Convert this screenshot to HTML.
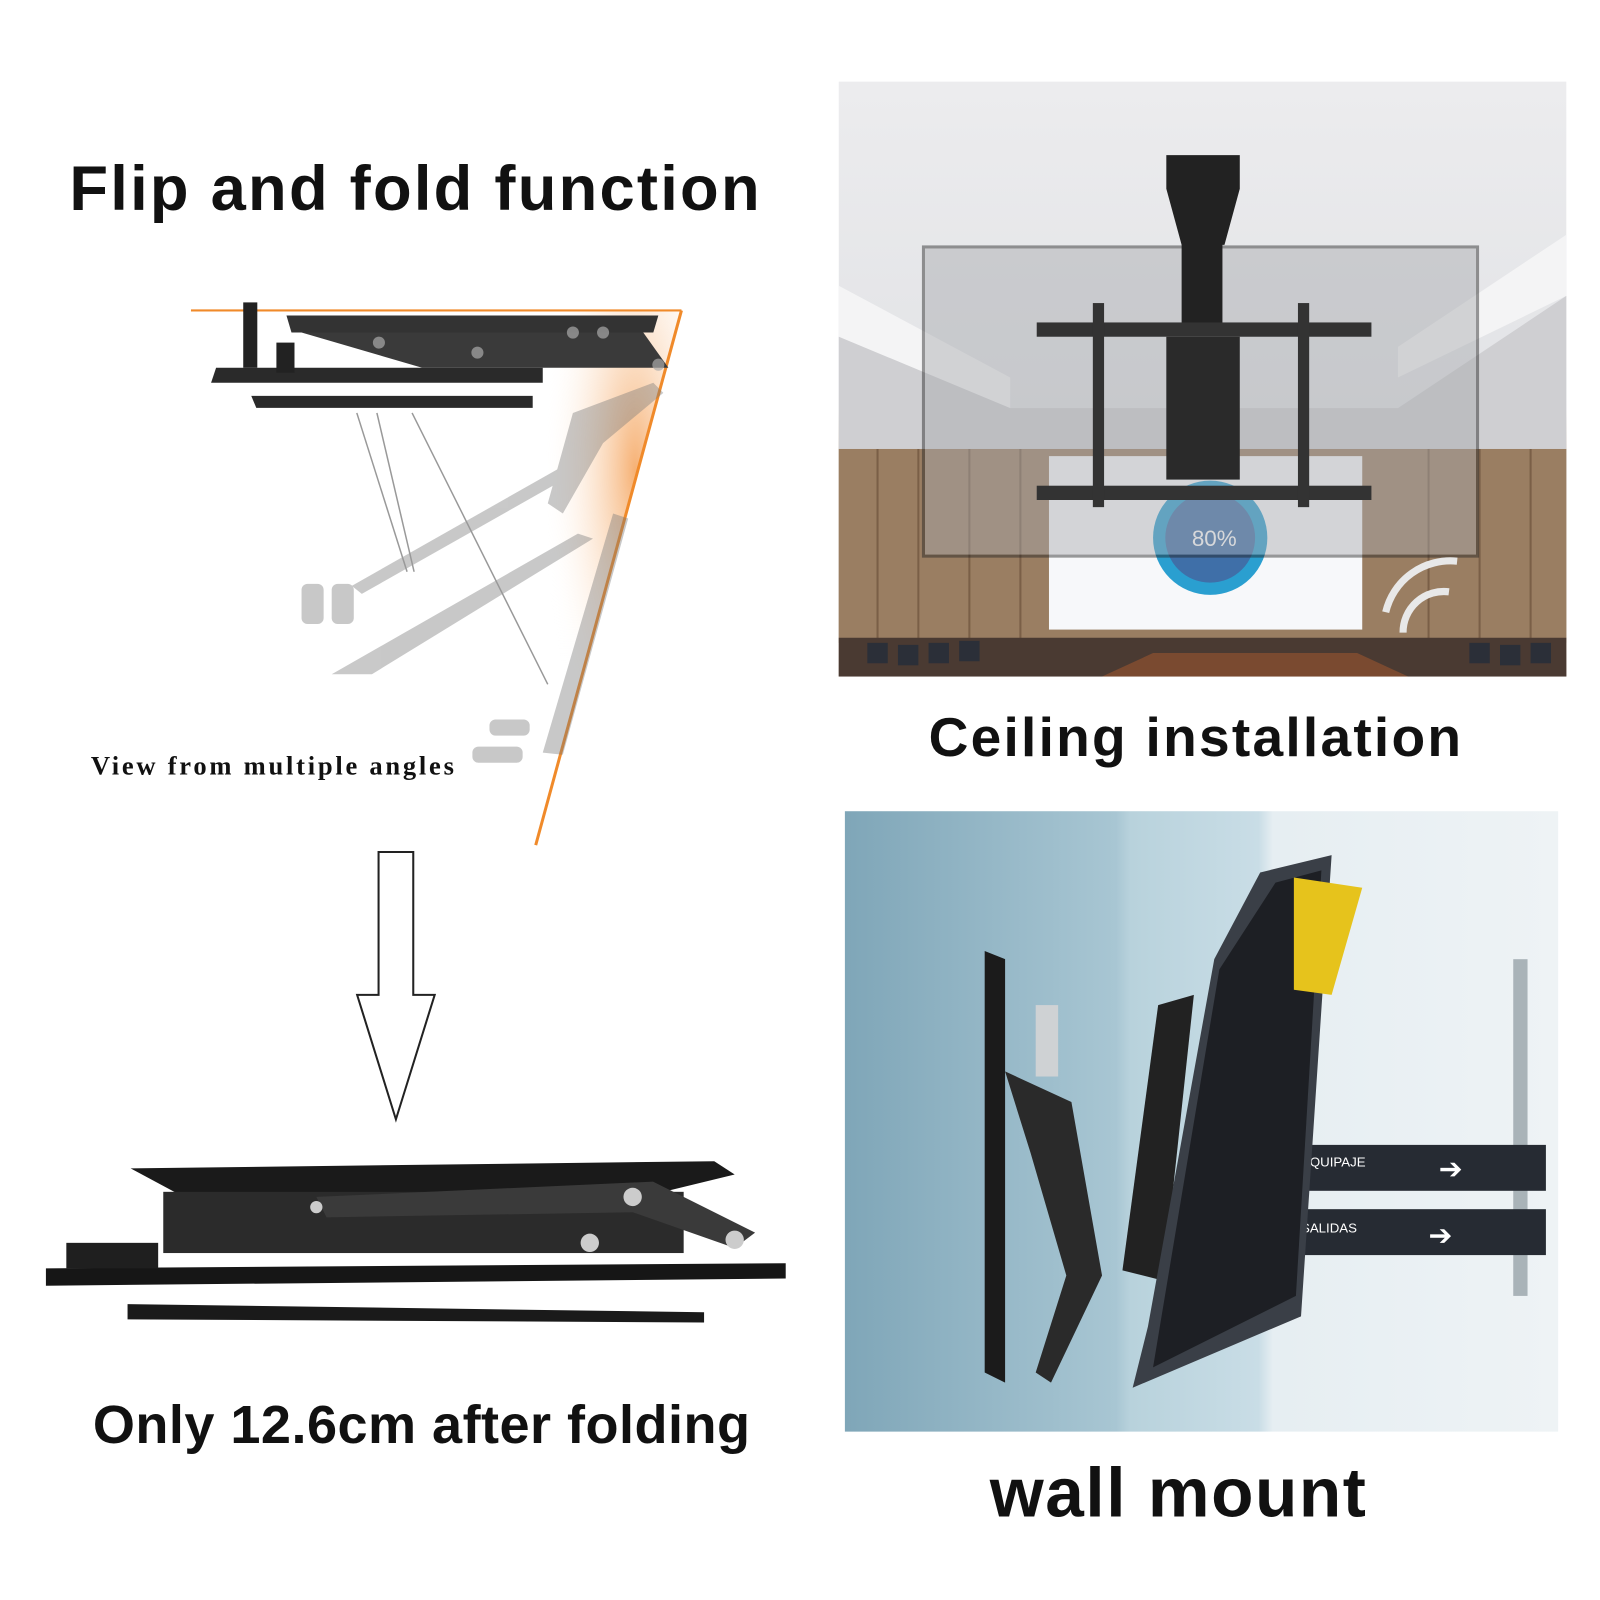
<!DOCTYPE html>
<html><head><meta charset="utf-8"><style>
html,body{margin:0;padding:0;background:#fff;}
body{width:1600px;height:1600px;position:relative;overflow:hidden;font-family:"Liberation Sans",sans-serif;}
#w{position:absolute;left:0;top:0;width:1568px;height:1568px;transform:scale(1.0204);transform-origin:0 0;}
.t{position:absolute;font-weight:bold;color:#111;white-space:nowrap;}
</style></head><body><div id="w">
<svg width="1568" height="1568" style="position:absolute;left:0;top:0">
<defs>
<linearGradient id="ceil" x1="0" y1="0" x2="0" y2="1"><stop offset="0" stop-color="#ececee"/><stop offset="0.55" stop-color="#e2e3e6"/><stop offset="0.62" stop-color="#a8927a"/><stop offset="0.95" stop-color="#8a6f57"/><stop offset="1" stop-color="#5a3e2c"/></linearGradient>
<linearGradient id="wall" x1="0" y1="0" x2="1" y2="0"><stop offset="0" stop-color="#7fa6b8"/><stop offset="0.38" stop-color="#a8c6d3"/><stop offset="0.4" stop-color="#b8d2dc"/><stop offset="0.58" stop-color="#c9dde6"/><stop offset="0.6" stop-color="#e6eef2"/><stop offset="1" stop-color="#eef3f5"/></linearGradient>
<radialGradient id="glow" cx="0.7" cy="0.3" r="0.6"><stop offset="0" stop-color="#f5a864" stop-opacity="0.9"/><stop offset="1" stop-color="#fff" stop-opacity="0"/></radialGradient>
</defs>
<rect x="822" y="80" width="713" height="583" fill="url(#ceil)"/>
<polygon points="822,280 990,370 990,400 822,330" fill="#f4f4f5"/>
<polygon points="1535,230 1370,340 1370,370 1535,290" fill="#f4f4f5"/>
<polygon points="822,330 990,400 1370,400 1535,290 1535,440 822,440" fill="#cfcfd2"/>
<rect x="822" y="440" width="713" height="190" fill="#9a7e62"/>
<g stroke="#7a5f47" stroke-width="2"><line x1="860" y1="440" x2="860" y2="630"/><line x1="900" y1="440" x2="900" y2="630"/><line x1="950" y1="440" x2="950" y2="630"/><line x1="1000" y1="440" x2="1000" y2="630"/><line x1="1400" y1="440" x2="1400" y2="630"/><line x1="1450" y1="440" x2="1450" y2="630"/><line x1="1500" y1="440" x2="1500" y2="630"/></g>
<rect x="822" y="625" width="713" height="38" fill="#4a3a32"/>
<polygon points="1080,663 1130,640 1330,640 1380,663" fill="#7a4a30"/>
<rect x="1028" y="447" width="307" height="170" fill="#f7f8fa"/>
<circle cx="1186" cy="527" r="56" fill="#2a9fd0"/>
<circle cx="1186" cy="527" r="44" fill="#3f6fa8"/>
<text x="1190" y="535" font-size="22" fill="#fff" text-anchor="middle" font-family="Liberation Sans">80%</text>
<rect x="905" y="242" width="543" height="303" fill="#a8aaae" opacity="0.45" stroke="#222" stroke-width="3"/>
<polygon points="1143,152 1215,152 1215,185 1200,240 1158,240 1143,185" fill="#222"/>
<rect x="1158" y="220" width="40" height="100" fill="#222"/>
<rect x="1143" y="330" width="72" height="140" fill="#2a2a2a"/>
<rect x="1016" y="316" width="328" height="14" fill="#333"/>
<rect x="1016" y="476" width="328" height="14" fill="#333"/>
<rect x="1071" y="297" width="11" height="200" fill="#333"/>
<rect x="1272" y="297" width="11" height="200" fill="#333"/>
<g fill="none" stroke="#e8e8e8" stroke-width="7"><path d="M1375 620 a40 40 0 0 1 45 -40"/><path d="M1358 600 a65 65 0 0 1 70 -50"/></g>
<g fill="#2b2f38"><rect x="850" y="630" width="20" height="20"/><rect x="880" y="632" width="20" height="20"/><rect x="910" y="630" width="20" height="20"/><rect x="940" y="628" width="20" height="20"/><rect x="1440" y="630" width="20" height="20"/><rect x="1470" y="632" width="20" height="20"/><rect x="1500" y="630" width="20" height="20"/></g>
<rect x="828" y="795" width="699" height="608" fill="url(#wall)"/>
<rect x="1483" y="940" width="14" height="330" fill="#a9b3b8"/>
<rect x="1270" y="1122" width="245" height="45" fill="#262b33"/>
<rect x="1270" y="1185" width="245" height="45" fill="#262b33"/>
<text x="1275" y="1143" font-size="13" fill="#fff" font-family="Liberation Sans">EQUIPAJE</text>
<text x="1275" y="1208" font-size="13" fill="#fff" font-family="Liberation Sans">SALIDAS</text>
<text x="1410" y="1155" font-size="28" fill="#fff" font-family="Liberation Sans">➔</text>
<text x="1400" y="1220" font-size="28" fill="#fff" font-family="Liberation Sans">➔</text>
<polygon points="965,932 985,940 985,1355 965,1345" fill="#1b1b1b"/>
<polygon points="985,1050 1050,1080 1080,1250 1030,1355 1015,1345 1045,1250 1010,1130" fill="#2a2a2a"/>
<rect x="1015" y="985" width="22" height="70" fill="#cfd2d4"/>
<polygon points="1135,985 1170,975 1140,1255 1100,1245" fill="#222"/>
<polygon points="1235,855 1305,838 1275,1290 1110,1360 1125,1300 1190,940" fill="#3a3f47"/>
<polygon points="1250,865 1295,853 1270,1270 1130,1340 1195,950" fill="#1d1f24"/>
<polygon points="1268,860 1335,870 1305,975 1268,970" fill="#e6c31c"/>
<g transform="translate(0,-9) scale(0.985)">
<polygon points="525,318 678,318 530,850 525,850 540,520" fill="url(#glow)"/>
<line x1="190" y1="318" x2="678" y2="318" stroke="#f08a2a" stroke-width="2"/>
<line x1="678" y1="318" x2="533" y2="850" stroke="#f08a2a" stroke-width="3"/>
<polygon points="285,323 655,323 650,340 290,340" fill="#333"/>
<polygon points="300,340 640,340 665,375 420,375" fill="#3a3a3a"/>
<polygon points="215,375 540,375 540,390 210,390" fill="#2a2a2a"/>
<polygon points="250,403 530,403 530,415 255,415" fill="#2a2a2a"/>
<rect x="242" y="310" width="14" height="65" fill="#222"/>
<rect x="275" y="350" width="18" height="30" fill="#222"/>
<g fill="#aaa" opacity="0.7"><circle cx="377" cy="350" r="6"/><circle cx="475" cy="360" r="6"/><circle cx="570" cy="340" r="6"/><circle cx="600" cy="340" r="6"/><circle cx="655" cy="372" r="6"/></g>
<g opacity="0.4" fill="#777">
<polygon points="560,473 572,480 360,600 350,592"/>
<polygon points="575,540 590,545 370,680 330,680"/>
<polygon points="610,520 625,525 560,760 540,758"/>
<polygon points="570,420 650,390 660,400 600,450 560,520 545,510"/>
<rect x="300" y="590" width="22" height="40" rx="6"/>
<rect x="330" y="590" width="22" height="40" rx="6"/>
<rect x="487" y="725" width="40" height="16" rx="6"/>
<rect x="470" y="752" width="50" height="16" rx="6"/>
</g>
<line x1="355" y1="420" x2="405" y2="578" stroke="#999" stroke-width="1.5"/>
<line x1="375" y1="420" x2="412" y2="578" stroke="#999" stroke-width="1.5"/>
<line x1="410" y1="420" x2="545" y2="690" stroke="#999" stroke-width="1.5"/>
</g>
<polygon transform="translate(-18,-23)" points="389,858 423,858 423,998 444,998 406,1120 368,998 389,998" fill="#fff" stroke="#222" stroke-width="2"/>
<g transform="translate(0,-27)">
<polygon points="128,1172 700,1165 720,1178 650,1195 180,1200" fill="#1a1a1a"/>
<rect x="160" y="1195" width="510" height="60" fill="#2b2b2b"/>
<polygon points="45,1270 770,1265 770,1280 45,1287" fill="#161616"/>
<rect x="65" y="1245" width="90" height="25" fill="#1f1f1f"/>
<polygon points="125,1305 690,1313 690,1323 125,1320" fill="#1a1a1a"/>
<polygon points="310,1200 640,1185 740,1235 720,1250 620,1215 320,1220" fill="#3a3a3a"/>
<circle cx="310" cy="1210" r="6" fill="#ccc"/><circle cx="620" cy="1200" r="9" fill="#ccc"/><circle cx="720" cy="1242" r="9" fill="#ccc"/><circle cx="578" cy="1245" r="9" fill="#ccc"/>
</g>
</svg>
<div class="t" style="left:68px;top:150px;font-size:62px;letter-spacing:2.2px;">Flip and fold function</div>
<div class="t" style="left:910px;top:692px;font-size:54px;letter-spacing:2.2px;">Ceiling installation</div>
<div class="t" style="left:89px;top:736px;font-size:26px;letter-spacing:2.7px;font-family:'Liberation Serif',serif;">View from multiple angles</div>
<div class="t" style="left:91px;top:1366px;font-size:53px;letter-spacing:0.45px;">Only 12.6cm after folding</div>
<div class="t" style="left:970px;top:1424px;font-size:68px;letter-spacing:1.5px;">wall mount</div>
</div></body></html>
